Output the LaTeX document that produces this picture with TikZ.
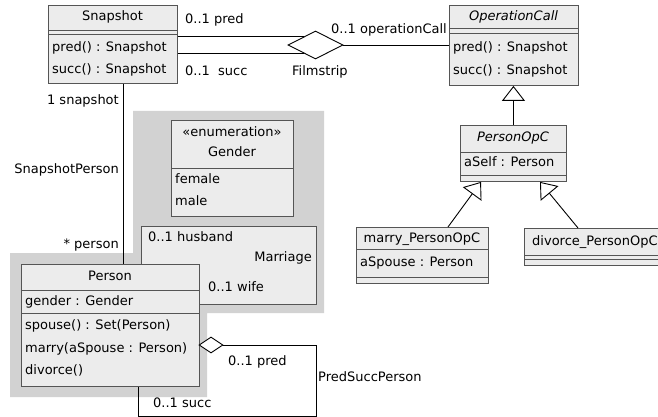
\documentclass[tikz,border=0pt]{standalone}
\usepackage{fontspec}
\setmainfont{DejaVu Sans}
\usetikzlibrary{shapes.geometric,arrows.meta,calc}
\definecolor{boxfill}{HTML}{ECECEC}
\definecolor{boxline}{HTML}{555555}
\definecolor{regiongray}{HTML}{D2D2D2}
\begin{document}
\begin{tikzpicture}[x=1pt,y=-1pt,
  every node/.style={font=\fontsize{13pt}{15pt}\selectfont},
  cls/.style={draw=boxline, fill=boxfill, rectangle, inner sep=0pt, anchor=north west, line width=0.9pt},
  sep/.style={draw=boxline, line width=0.9pt},
  lbl/.style={inner sep=0pt, text height=9.5pt, text depth=2.5pt},
  conn/.style={draw=black, line width=0.9pt},
  gen/.style={conn, -{Triangle[open, length=15pt, width=23pt, line width=0.9pt]}},
  agg/.style={diamond, draw=black, fill=white, inner sep=0pt, line width=0.9pt}
]
\useasboundingbox (0,0) rectangle (658,417);
\clip (0,0) rectangle (658,417);
\fill[white] (0,0) rectangle (658,417);

% gray region
\fill[regiongray] (133,111) -- (324,111) -- (324,313) -- (207,313) -- (207,397) -- (10,397) -- (10,253) -- (133,253) -- cycle;

% Snapshot
\node[cls, minimum width=129pt, minimum height=78pt] (snap) at (48,5) {};
\draw[sep] (snap.west |- 0,30) -- (snap.east |- 0,30);
\draw[sep] (snap.west |- 0,34.5) -- (snap.east |- 0,34.5);
\node[lbl] (snapT) at (112.5,17) {Snapshot};
\node[lbl, anchor=west] (snapP) at (52,48) {pred() : Snapshot};
\node[lbl, anchor=west] (snapS) at (52,70) {succ() : Snapshot};

% OperationCall
\node[cls, minimum width=129pt, minimum height=80pt] (opc) at (449,5) {};
\draw[sep] (opc.west |- 0,28.5) -- (opc.east |- 0,28.5);
\draw[sep] (opc.west |- 0,33.5) -- (opc.east |- 0,33.5);
\node[lbl, font=\fontsize{13pt}{15pt}\selectfont\itshape] (opcT) at (513.5,17) {OperationCall};
\node[lbl, anchor=west] (opcP) at (453,48) {pred() : Snapshot};
\node[lbl, anchor=west] (opcS) at (453,71) {succ() : Snapshot};

% Filmstrip
\node[agg, minimum width=55pt, minimum height=28pt] (film) at (315.5,45) {};
\coordinate (fu) at ($(film.west)!0.571!(film.north)$);
\coordinate (fl) at ($(film.west)!0.571!(film.south)$);
\draw[conn] (snap.east |- fu) -- (fu);
\draw[conn] (snap.east |- fl) -- (fl);
\draw[conn] (film.east) -- (opc.west |- film.east);
\node[lbl, anchor=west] (l1) at (185,20) {0..1 pred};
\node[lbl, anchor=west] (l2) at (185,72) {0..1};
\node[lbl, anchor=west] (l3) at (218,72) {succ};
\node[lbl, anchor=west] (l4) at (292,72) {Filmstrip};
\node[lbl, anchor=east] (l5) at (447,30) {0..1 operationCall};

% PersonOpC
\node[cls, minimum width=106pt, minimum height=56pt] (popc) at (460,125) {};
\draw[sep] (popc.west |- 0,152) -- (popc.east |- 0,152);
\draw[sep] (popc.west |- 0,175) -- (popc.east |- 0,175);
\node[lbl, font=\fontsize{13pt}{15pt}\selectfont\itshape] (popcT) at (513,138) {PersonOpC};
\node[lbl, anchor=west] (popcA) at (464,163) {aSelf : Person};
\draw[gen] (popc.north) -- (popc.north |- opc.south);

% marry_PersonOpC
\node[cls, minimum width=132pt, minimum height=56pt] (marry) at (356,227) {};
\draw[sep] (marry.west |- 0,249) -- (marry.east |- 0,249);
\draw[sep] (marry.west |- 0,277) -- (marry.east |- 0,277);
\node[lbl] (marryT) at (422,239) {marry\_PersonOpC};
\node[lbl, anchor=west] (marryA) at (360,263) {aSpouse : Person};

% divorce_PersonOpC
\node[cls, minimum width=150pt, minimum height=37pt] (divorce) at (524,228) {};
\draw[sep] (divorce.west |- 0,255) -- (divorce.east |- 0,255);
\draw[sep] (divorce.west |- 0,259.5) -- (divorce.east |- 0,259.5);
\node[lbl, anchor=west] (divorceT) at (532,242) {divorce\_PersonOpC};

\draw[gen] ($(marry.north west)+(92,0)$) -- ($(popc.south west)+(21,0)$);
\draw[gen] ($(divorce.north west)+(54,0)$) -- ($(popc.south west)+(80,0)$);

% Gender
\node[cls, minimum width=122pt, minimum height=96pt] (gender) at (171,120) {};
\draw[sep] (gender.west |- 0,168) -- (gender.east |- 0,168);
\node[lbl] (genS) at (232,133) {«enumeration»};
\node[lbl] (genT) at (232,153) {Gender};
\node[lbl, anchor=west] (genF) at (175,180) {female};
\node[lbl, anchor=west] (genM) at (175,202) {male};

% Marriage association
\node[cls, minimum width=175pt, minimum height=78pt] (marriage) at (141,226) {};
\node[lbl, anchor=west] (mh) at (148,238) {0..1 husband};
\node[lbl, anchor=east] (mn) at (312,258) {Marriage};
\node[lbl, anchor=west] (mw) at (208,288) {0..1 wife};

% Person
\node[cls, minimum width=178pt, minimum height=122pt] (person) at (21,264) {};
\draw[sep] (person.west |- 0,290) -- (person.east |- 0,290);
\draw[sep] (person.west |- 0,313) -- (person.east |- 0,313);
\node[lbl] (personT) at (110,277) {Person};
\node[lbl, anchor=west] (pg) at (25,302) {gender : Gender};
\node[lbl, anchor=west] (ps) at (25,326) {spouse() : Set(Person)};
\node[lbl, anchor=west] (pm) at (25,349) {marry(aSpouse : Person)};
\node[lbl, anchor=west] (pd) at (25,371) {divorce()};

% SnapshotPerson
\draw[conn] ($(snap.south west)+(75,0)$) -- ($(person.north west)+(102,0)$);
\node[lbl, anchor=east] (sp1) at (119,101) {1 snapshot};
\node[lbl, anchor=east] (sp2) at (119,170) {SnapshotPerson};
\node[lbl, anchor=east] (sp3) at (119,245) {* person};

% PredSuccPerson
\node[agg, minimum width=24pt, minimum height=16pt] (psd) at (211,345) {};
\draw[conn] (psd.east) -- ++(93,0) -- ++(0,71) -| ($(person.south west)+(117,0)$);
\node[lbl, anchor=west] (psp) at (228,362) {0..1 pred};
\node[lbl, anchor=west] (psn) at (318,378) {PredSuccPerson};
\node[lbl, anchor=west] (pss) at (153,404) {0..1 succ};
\end{tikzpicture}
\end{document}
